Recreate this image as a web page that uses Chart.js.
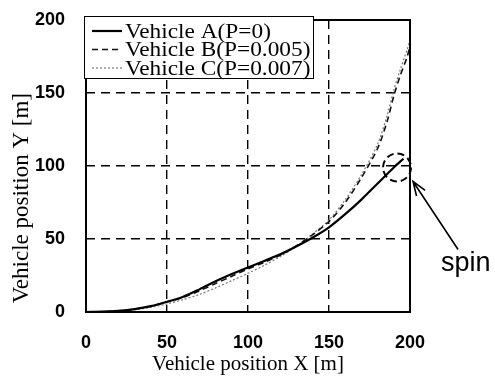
<!DOCTYPE html>
<html>
<head>
<meta charset="utf-8">
<script src="https://cdn.jsdelivr.net/npm/chart.js@4/dist/chart.umd.min.js"></script>
<style>
  html, body { margin: 0; padding: 0; background: #fff; }
  canvas { display: block; }
</style>
</head>
<body>
<canvas id="chart" width="495" height="383"></canvas>
<script>
// trajectories, [m]
const seriesNames = ['Vehicle A(P=0)', 'Vehicle B(P=0.005)', 'Vehicle C(P=0.007)'];

const xA = [0, 10, 20, 30, 40, 50, 60, 70, 80, 90, 100, 110, 120, 130, 140, 150, 160, 170, 180, 190, 196];
const yA = [0, 0.2, 0.8, 2, 4, 7, 10.5, 15.5, 21, 26, 30.5, 35, 39.5, 45, 51, 58, 67, 77, 88, 99, 105];

const xB = [0, 10, 20, 30, 40, 50, 60, 70, 80, 90, 100, 110, 120, 130, 140, 150, 160, 170, 180, 186, 190, 194, 198, 200];
const yB = [0, 0.2, 0.8, 2, 4, 6.8, 10, 14.5, 19.5, 24.5, 29.5, 34, 39, 45.5, 53, 62, 75, 92, 112, 131, 148, 162, 174, 182];

const xC = [0, 10, 20, 30, 40, 50, 60, 70, 80, 90, 100, 110, 120, 130, 140, 150, 160, 170, 180, 186, 190, 194, 198, 200];
const yC = [0, 0.1, 0.5, 1.5, 3.2, 5.5, 8.5, 12, 16.5, 21.5, 26.5, 32, 38, 45, 53.5, 63, 77, 94, 115, 135, 152, 166, 179, 186];

const xTicks = [0, 50, 100, 150, 200];
const yTicks = [0, 50, 100, 150, 200];

// where vehicle A spins
const spinAt = { x: 192, y: 99 };

const toPoints = (xs, ys) => xs.map((v, i) => ({ x: v, y: ys[i] }));

const serif = '"Liberation Serif", "Times New Roman", serif';
const sans = '"Liberation Sans", Arial, sans-serif';

const lineStyles = [
  { borderColor: '#000', borderWidth: 2.2, borderDash: [] },
  { borderColor: '#111', borderWidth: 1.6, borderDash: [6, 4] },
  { borderColor: '#777', borderWidth: 1.2, borderDash: [2, 2] },
];

const gridColor = (ctx) => (ctx.tick && (ctx.tick.value === 0 || ctx.tick.value === 200)) ? 'rgba(0,0,0,0)' : '#000';

const extras = {
  id: 'extras',
  afterDraw(chart) {
    const { ctx, chartArea: a, scales: { x, y } } = chart;
    ctx.save();

    // frame
    ctx.strokeStyle = '#000';
    ctx.lineWidth = 2;
    ctx.setLineDash([]);
    ctx.strokeRect(a.left, a.top, a.right - a.left, a.bottom - a.top);

    // legend box
    const bx = a.left - 2, by = a.top - 4, bw = 229, bh = 62;
    ctx.fillStyle = '#fff';
    ctx.fillRect(bx, by, bw, bh);
    ctx.lineWidth = 1;
    ctx.strokeRect(bx + 0.5, by + 0.5, bw, bh);
    ctx.textBaseline = 'middle';
    seriesNames.forEach((name, i) => {
      const ly = by + 15 + i * 18.5;
      const st = lineStyles[i];
      ctx.strokeStyle = st.borderColor;
      ctx.lineWidth = st.borderWidth;
      ctx.setLineDash(st.borderDash);
      ctx.beginPath();
      ctx.moveTo(bx + 8, ly);
      ctx.lineTo(bx + 38, ly);
      ctx.stroke();
      ctx.save();
      ctx.translate(bx + 41, ly + 1);
      ctx.scale(1.06, 1);
      ctx.fillStyle = '#000';
      ctx.font = '22px ' + serif;
      ctx.fillText(name, 0, 0);
      ctx.restore();
    });

    // y axis title
    ctx.save();
    ctx.translate(22, a.top + (a.bottom - a.top) * 0.61);
    ctx.rotate(-Math.PI / 2);
    ctx.fillStyle = '#000';
    ctx.font = '23px ' + serif;
    ctx.textAlign = 'center';
    ctx.textBaseline = 'middle';
    ctx.fillText('Vehicle position Y [m]', 0, 0);
    ctx.restore();

    // spin circle + arrow + note
    const cx = x.getPixelForValue(spinAt.x);
    const cy = y.getPixelForValue(spinAt.y);
    ctx.strokeStyle = '#000';
    ctx.lineWidth = 2;
    ctx.setLineDash([7, 4]);
    ctx.beginPath();
    ctx.arc(cx, cy, 14, 0, Math.PI * 2);
    ctx.stroke();

    ctx.setLineDash([]);
    ctx.lineWidth = 1.6;
    const tipX = cx + 16, tipY = cy + 14;
    const tailX = cx + 61, tailY = cy + 82;
    ctx.beginPath();
    ctx.moveTo(tailX, tailY);
    ctx.lineTo(tipX, tipY);
    const ang = Math.atan2(tailY - tipY, tailX - tipX);
    ctx.moveTo(tipX + 15 * Math.cos(ang - 0.35), tipY + 15 * Math.sin(ang - 0.35));
    ctx.lineTo(tipX, tipY);
    ctx.lineTo(tipX + 15 * Math.cos(ang + 0.35), tipY + 15 * Math.sin(ang + 0.35));
    ctx.stroke();

    ctx.fillStyle = '#000';
    ctx.font = '27px ' + sans;
    ctx.textBaseline = 'alphabetic';
    ctx.textAlign = 'left';
    ctx.fillText('spin', cx + 44, cy + 104);

    ctx.restore();
  }
};

new Chart(document.getElementById('chart'), {
  type: 'scatter',
  data: {
    datasets: [
      { label: seriesNames[0], data: toPoints(xA, yA), ...lineStyles[0] },
      { label: seriesNames[1], data: toPoints(xB, yB), ...lineStyles[1] },
      { label: seriesNames[2], data: toPoints(xC, yC), ...lineStyles[2] },
    ]
  },
  options: {
    responsive: false,
    animation: false,
    showLine: true,
    elements: {
      point: { radius: 0 },
      line: { tension: 0.3, fill: false }
    },
    layout: { padding: { left: 0, top: 20, right: 85, bottom: 0 } },
    plugins: {
      legend: { display: false },
      tooltip: { enabled: false }
    },
    scales: {
      x: {
        type: 'linear',
        min: 0, max: 200,
        afterBuildTicks: (s) => { s.ticks = xTicks.map(v => ({ value: v })); },
        afterFit: (s) => { s.height = 71; s.paddingLeft = 0; s.paddingRight = 0; },
        grid: { color: gridColor, lineWidth: 1.4, drawTicks: false },
        border: { display: false, dash: [9, 6] },
        ticks: { color: '#000', padding: 20, font: { family: sans, size: 18, weight: 'bold' } },
        title: { display: true, text: 'Vehicle position X [m]', color: '#000',
                 font: { family: serif, size: 21 }, padding: { top: 0, bottom: 6 } }
      },
      y: {
        type: 'linear',
        min: 0, max: 200,
        afterBuildTicks: (s) => { s.ticks = yTicks.map(v => ({ value: v })); },
        afterFit: (s) => { s.width = 86; s.paddingTop = 0; s.paddingBottom = 0; },
        grid: { color: gridColor, lineWidth: 1.4, drawTicks: false },
        border: { display: false, dash: [9, 6] },
        ticks: { color: '#000', padding: 21, font: { family: sans, size: 18, weight: 'bold' } }
      }
    }
  },
  plugins: [extras]
});
</script>
</body>
</html>
